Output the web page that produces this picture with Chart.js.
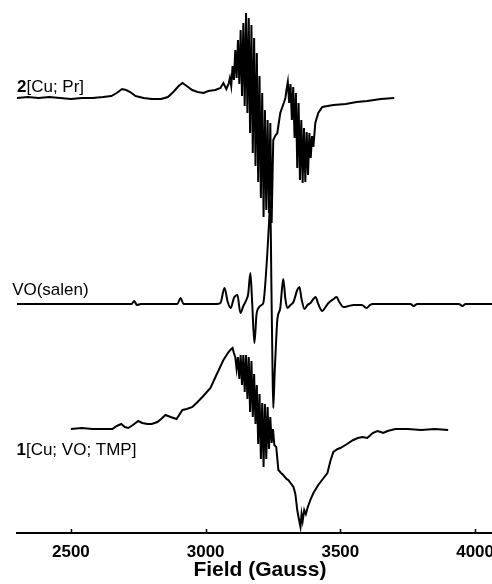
<!DOCTYPE html>
<html>
<head>
<meta charset="utf-8">
<script src="https://cdn.jsdelivr.net/npm/chart.js@4"></script>
<style>
  html, body { margin: 0; padding: 0; background: #fff; overflow: hidden; }
  #wrap { width: 503px; height: 584px; }
</style>
</head>
<body>
<div id="wrap"><canvas id="epr" width="503" height="584"></canvas></div>
<script>
// 磁场 (Gauss) 与强度 — 2[Cu; Pr]
const fieldCuPr = [2300,2340,2380,2420,2460,2500,2540,2580,2620,2650,2670,2690,2705,2720,2740,2770,2800,2835,2860,2880,2900,2914,2930,2950,2970,2992,3010,3036,3055,3066,3077,3085,
    3090,3095,3100,3105,3110,3115,3120,3125,3130,3135,3140,3145,3150,3155,3160,3165,3170,3175,3180,3185,3190,3195,3200,3205,3210,3215,3220,3225,3230,3235,3240,3245,
    3251,3258,3266,3277,3290,3296,
    3300,3305,3310,3315,3320,3325,3330,3335,3340,3345,3350,3355,3360,3365,3370,3375,3380,3385,3390,3395,3400,3407,
    3418,3433,3474,3520,3560,3600,3650,3700];
const intCuPr   = [0,1,0,1,0,-1,0,0,1,2,5,9,8,6,2,0,-1,-1,1,6,12,15,12,8,6,5,7,8,10,15,9,14,
    20,12,32,18,48,20,58,14,68,2,75,-8,85,-15,80,-35,73,-55,60,-68,45,-84,22,-100,5,-119,-12,-112,-22,-115,-25,-125,
    -42,-38,-35,-15,-5,0,
    8,16,-5,14,-22,11,-40,5,-70,-5,-82,-22,-85,-30,-84,-34,-77,-35,-60,-38,-49,-25,
    -15,-9,-7,-6,-4,-3,-1,0];

// VO(salen)
const fieldVO = [2300,2700,2725,2735,2745,2760,2895,2907,2918,3040,3055,3070,3082,3093,3105,3118,3129,3140,3151,3158,3166,3173,3181,3189,3196,3207,3214,3229,3236,3240,3244,3248,3251,3256,3262,3266,3277,3288,3296,3303,3315,3326,3340,3348,3356,3367,3378,3389,3400,3408,3418,3433,3445,3456,3475,3486,3496,3512,3530,3549,3580,3597,3610,3620,3760,3772,3785,3940,3953,3965,4100];
const intVO   = [0,0,0,3,-1,0,0,6,0,0,1,16,2,-4,6,9,-9,-2,4,10,31,0,-39,-10,-4,-1,1,51,85,104,20,-60,-104,-70,-35,-16,-4,25,5,-4,-1,2,14,17,5,-5,-1,1,5,7,0,-7,-3,1,5,7,2,-3,-2,-1,-1,-4,-1,0,0,-2,0,0,-2,0,0];

// 1[Cu; VO; TMP]
const fieldTMP = [2500,2540,2580,2620,2654,2670,2687,2700,2713,2730,2750,2765,2784,2800,2821,2835,2851,2870,2892,2914,2930,2951,2970,2988,3018,3040,3066,3085,
    3095,3100,3105,3110,3115,3120,3125,3130,3135,3140,3145,3150,3155,3160,3165,3170,3175,3180,3185,3190,3195,3200,3205,3210,3215,3220,3225,3230,3235,3240,3245,3250,3255,
    3262,3270,3280,3288,3300,3307,3315,3326,3333,3340,3346,3352,3356,3360,3366,3372,3378,3390,3400,3418,3435,3452,3463,3474,3490,3500,3525,3548,3565,3582,3600,3620,3637,3650,3659,3675,3704,3750,3800,3850,3900];
const intTMP   = [0,1,0,0,0,3,5,2,1,4,8,6,5,5,7,10,14,12,10,19,20,22,27,32,41,54,69,77,
    80,81,76,72,60,72,50,74,44,74,37,74,30,72,17,68,12,55,5,44,-15,35,-30,26,-38,25,-30,22,-20,12,-14,0,-16,
    -18,-41,-44,-46,-50,-51,-54,-58,-65,-81,-90,-98,-85,-92,-81,-85,-79,-70,-64,-56,-50,-44,-32,-23,-20,-19,-15,-11,-9,-8,-9,-4,-2,-3,-4,-2,0,0,-1,0,-1];

// 各谱线的基线（纵向堆叠）
const baseCuPr = 435;
const baseVO = 229;
const baseTMP = 104;

// x 轴刻度
const tickValues = [2500, 3000, 3500, 4000];

// 谱线标注：[粗体部分, 普通部分, 场值, 纵坐标]
const traceLabels = [
    ['2', '[Cu; Pr]', 2300, 441],
    ['', 'VO(salen)', 2282, 238],
    ['1', '[Cu; VO; TMP]', 2298, 78]
];

const FONT = '"Liberation Sans", Arial, Helvetica, sans-serif';

function toPoints(xs, ys, base) {
    return xs.map((x, i) => ({ x: x, y: base + ys[i] }));
}

function lineSet(data, smooth) {
    return {
        data: data,
        borderColor: '#000',
        borderWidth: 2,
        pointRadius: 0,
        tension: smooth ? 0.4 : 0,
        cubicInterpolationMode: smooth ? 'monotone' : 'default',
        fill: false
    };
}

// 向上的刻度线 + 谱线名称
const decorPlugin = {
    id: 'decor',
    afterDraw(chart) {
        const ctx = chart.ctx;
        const xs = chart.scales.x;
        const ys = chart.scales.y;
        const bottom = chart.chartArea.bottom;
        ctx.save();
        ctx.strokeStyle = '#000';
        ctx.lineWidth = 1.5;
        tickValues.forEach(v => {
            const px = Math.round(xs.getPixelForValue(v)) + 0.5;
            ctx.beginPath();
            ctx.moveTo(px, bottom);
            ctx.lineTo(px, bottom - 4);
            ctx.stroke();
        });
        ctx.fillStyle = '#000';
        ctx.textBaseline = 'alphabetic';
        traceLabels.forEach(l => {
            let px = xs.getPixelForValue(l[2]);
            const py = ys.getPixelForValue(l[3]);
            if (l[0]) {
                ctx.font = 'bold 17px ' + FONT;
                ctx.fillText(l[0], px, py);
                px += ctx.measureText(l[0]).width;
            }
            ctx.font = '17px ' + FONT;
            ctx.fillText(l[1], px, py);
        });
        ctx.restore();
    }
};

const eprChart = new Chart(document.getElementById('epr').getContext('2d'), {
    type: 'line',
    data: {
        datasets: [
            lineSet(toPoints(fieldCuPr, intCuPr, baseCuPr), false),
            lineSet(toPoints(fieldVO, intVO, baseVO), true),
            lineSet(toPoints(fieldTMP, intTMP, baseTMP), false)
        ]
    },
    options: {
        responsive: false,
        animation: false,
        devicePixelRatio: 1,
        layout: { padding: { left: 17, right: 0, top: 0, bottom: 0 } },
        plugins: { legend: { display: false }, tooltip: { enabled: false } },
        scales: {
            x: {
                type: 'linear',
                min: 2300,
                max: 4103,
                afterBuildTicks(scale) {
                    scale.ticks = tickValues.map(v => ({ value: v }));
                },
                afterFit(scale) { scale.height = 51; },
                grid: { display: false, drawTicks: false },
                border: { display: true, color: '#000', width: 2 },
                ticks: {
                    color: '#000',
                    padding: 9,
                    maxRotation: 0,
                    callback: v => String(v),
                    font: { family: FONT, size: 17, weight: 'bold' }
                },
                title: {
                    display: true,
                    text: 'Field (Gauss)',
                    color: '#000',
                    padding: { top: 0, bottom: 1 },
                    font: { family: FONT, size: 21, weight: 'bold' }
                }
            },
            y: {
                type: 'linear',
                display: false,
                min: 0,
                max: 533
            }
        }
    },
    plugins: [decorPlugin]
});
</script>
</body>
</html>
